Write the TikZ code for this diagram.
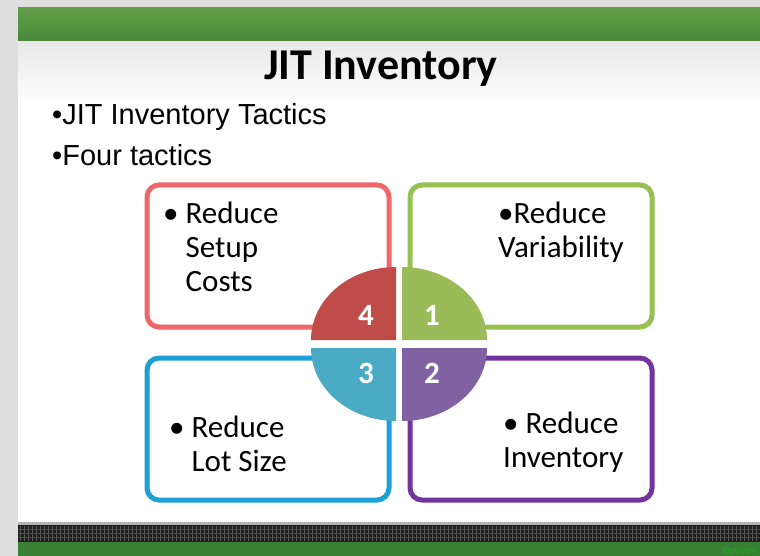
\documentclass[tikz,border=0pt]{standalone}
\usepackage{fontspec}
\setmainfont{Carlito}
\newfontfamily\arialfont{Liberation Sans}
\usetikzlibrary{positioning}

\definecolor{slideGray}{RGB}{222,222,222}
\definecolor{barGreen}{RGB}{74,136,56}
\definecolor{barGreenTop}{RGB}{96,158,72}
\definecolor{footGreen}{RGB}{56,128,52}
\definecolor{footDark}{RGB}{30,30,30}
\definecolor{boxRed}{RGB}{238,104,106}
\definecolor{boxGreen}{RGB}{150,192,80}
\definecolor{boxCyan}{RGB}{28,160,214}
\definecolor{boxPurple}{RGB}{114,52,158}
\definecolor{pieRed}{RGB}{192,76,74}
\definecolor{pieGreen}{RGB}{155,187,89}
\definecolor{pieCyan}{RGB}{75,170,198}
\definecolor{piePurple}{RGB}{128,98,162}

\begin{document}
\begin{tikzpicture}[
        x=1pt, y=-1pt,
        tactic box/.style={draw, line width=5pt, rounded corners=12pt, fill=white, minimum width=242pt, minimum height=142pt},
        box text/.style={align=left, anchor=base west, inner sep=0pt, font=\fontsize{31}{34}\selectfont},
        num label/.style={text=white, inner sep=0pt, font=\bfseries\fontsize{31}{31}\selectfont},
        slide text/.style={anchor=base west, inner sep=0pt, font=\arialfont\fontsize{29}{29}\selectfont}
    ]
    \useasboundingbox (0,0) rectangle (760,556);

    % Slide background
    \fill[slideGray] (0,0) rectangle (760,556);
    \shade[top color=barGreenTop, bottom color=barGreen] (18,8) rectangle (760,42);
    \fill[white] (18,42) rectangle (760,523);
    \shade[top color=gray!18, bottom color=white] (18,42) rectangle (760,105);
    \fill[gray!60] (18,522) rectangle (760,525);
    \fill[footDark] (18,525) rectangle (760,542);
    \foreach \xx in {20,24,...,758}
        \draw[black!65, line width=1pt] (\xx,526) -- (\xx,541);
    \foreach \yy in {529,533,537}
        \draw[black!70, line width=0.8pt] (18,\yy) -- (760,\yy);
    \fill[footGreen] (18,542) rectangle (760,556);
    \node[text=green!30!footGreen, font=\arialfont\fontsize{9}{9}\selectfont, anchor=base east, inner sep=0pt] (site) at (757,553) {fppt.com};

    % Title and bullets
    \node[anchor=base, inner sep=0pt, font=\bfseries\fontsize{44}{44}\selectfont] (title) at (381,80) {JIT Inventory};
    \node[slide text] (tactics) at (52,125) {\textbullet JIT Inventory Tactics};
    \node[slide text] (four) at (52,166) {\textbullet Four tactics};

    % Tactic boxes
    \node[tactic box, draw=boxRed] (setup) at (268,256) {};
    \node[tactic box, draw=boxGreen] (variability) at (531,256) {};
    \node[tactic box, draw=boxCyan] (lotsize) at (268,429) {};
    \node[tactic box, draw=boxPurple] (inventory) at (531,429) {};

    % Centre circle
    \fill[pieRed] (396,340) -- ++(-85,0) arc[start angle=180, end angle=270, x radius=85, y radius=73] -- cycle;
    \fill[pieGreen] (402,340) -- ++(0,-73) arc[start angle=270, end angle=360, x radius=85, y radius=73] -- cycle;
    \fill[piePurple] (402,348) -- ++(85,0) arc[start angle=0, end angle=90, x radius=85, y radius=73] -- cycle;
    \fill[pieCyan] (396,348) -- ++(0,73) arc[start angle=90, end angle=180, x radius=85, y radius=73] -- cycle;
    \node[num label] (n4) at (366,315) {4};
    \node[num label] (n1) at (432,315) {1};
    \node[num label] (n3) at (366,373) {3};
    \node[num label] (n2) at (432,373) {2};

    % Box texts (anchored at the baseline of their last line)
    \node[box text] (setuptext) at (163,291) {\textbullet\ Reduce\\\hphantom{\textbullet\ }Setup\\\hphantom{\textbullet\ }Costs};
    \node[box text] (variabilitytext) at (498,257) {\textbullet Reduce\\Variability};
    \node[box text] (lotsizetext) at (169,471) {\textbullet\ Reduce\\\hphantom{\textbullet\ }Lot Size};
    \node[box text] (inventorytext) at (503,467) {\textbullet\ Reduce\\Inventory};
\end{tikzpicture}
\end{document}
